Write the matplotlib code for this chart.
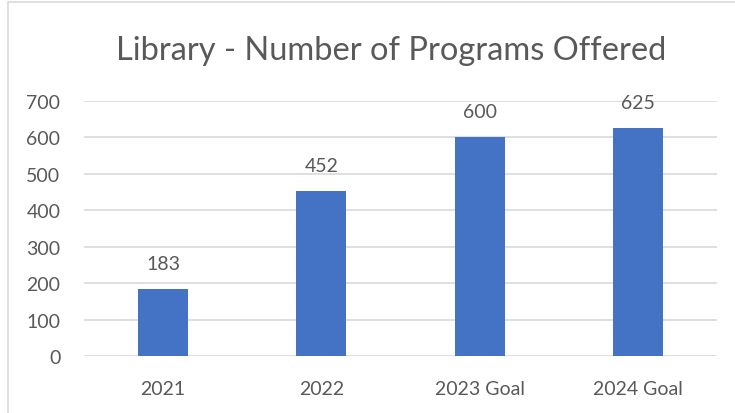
import matplotlib
matplotlib.use('Agg')
import matplotlib.pyplot as plt
from matplotlib.patches import Rectangle

categories = ['2021', '2022', '2023 Goal', '2024 Goal']
programs = [183, 452, 600, 625]
y_ticks = [0, 100, 200, 300, 400, 500, 600, 700]

plt.rcParams['font.family'] = ['Lato', 'DejaVu Sans']
text_color = '#595959'

fig = plt.figure(figsize=(7.35, 4.14), dpi=100)
# outer chart border
fig.patches.append(Rectangle((8 / 735, -0.01), 1.0, 1.0 - 3 / 414 + 0.01,
                             transform=fig.transFigure, fill=False,
                             edgecolor='#D9D9D9', linewidth=1.2))

ax = fig.add_axes([84 / 735, 1 - 357 / 414, (717 - 84) / 735, (357 - 102) / 414])
x = range(len(categories))
ax.bar(x, programs, width=0.315, color='#4472C4', zorder=3)

for xi, v in zip(x, programs):
    ax.text(xi, v + 71, str(v), ha='center', va='center', fontsize=14, color=text_color)

ax.set_xlim(-0.5, 3.5)
ax.set_ylim(0, 700)
ax.set_yticks(y_ticks)
ax.set_xticks(list(x))
ax.set_xticklabels(categories)
ax.grid(axis='y', color='#D9D9D9', linewidth=1.2, zorder=0)
for s in ax.spines.values():
    s.set_visible(False)
ax.tick_params(length=0, labelsize=14, labelcolor=text_color)
ax.tick_params(axis='y', pad=17)
ax.tick_params(axis='x', pad=17)

fig.text(391 / 735, 1 - 60 / 414, 'Library - Number of Programs Offered',
         ha='center', va='baseline', fontsize=23.5, color=text_color)

fig.savefig('out.png', dpi=100)
